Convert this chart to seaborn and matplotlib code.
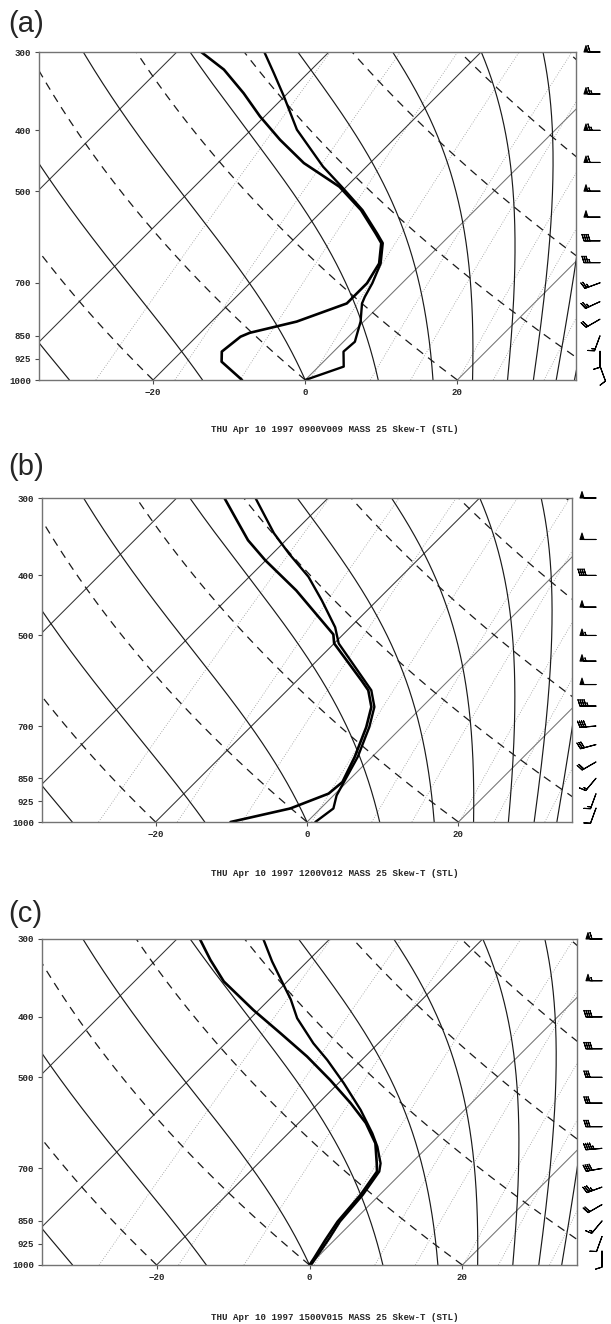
import numpy as np
import matplotlib
matplotlib.use("Agg")
import matplotlib.pyplot as plt
import seaborn as sns

# sounding values (p in hPa, T in deg C)
# (a) 0900V009
p_a_t = [1000, 952, 901, 869, 807, 755, 737, 701, 652, 605, 584, 536, 492, 457, 399, 353, 324, 300]
t_a = [0.0, 3.3, 1.3, 1.5, -0.4, -2.6, -3.1, -3.9, -5.4, -7.8, -9.8, -14.8, -20.6, -25.7, -34.0, -40.1, -44.5, -48.5]
p_a_td = [1000, 935, 901, 853, 841, 807, 755, 701, 652, 605, 584, 536, 492, 451, 414, 380, 349, 320, 300]
td_a = [-8.3, -13.4, -14.7, -14.2, -13.5, -8.8, -4.6, -4.6, -5.6, -8.0, -10.0, -15.0, -20.9, -28.7, -34.9, -40.6, -45.8, -51.5, -56.8]

# (b) 1200V012
p_b_t = [1000, 951, 906, 862, 785, 703, 652, 613, 591, 515, 485, 439, 402, 369, 342, 300]
t_b = [1.1, 1.7, 0.4, -0.4, -1.9, -4.3, -6.3, -8.9, -11.1, -19.4, -22.0, -27.3, -32.2, -37.8, -42.5, -49.6]
p_b_td = [1000, 951, 900, 862, 785, 703, 652, 613, 591, 515, 498, 423, 378, 351, 326, 300]
td_b = [-10.1, -4.0, -0.9, -0.6, -2.3, -4.7, -6.7, -9.3, -11.5, -20.0, -21.3, -32.0, -40.1, -45.0, -49.1, -53.7]

# (c) 1500V015
p_c_t = [1000, 906, 852, 772, 708, 687, 646, 615, 564, 511, 469, 441, 402, 375, 353, 326, 300]
t_c = [0.2, -0.9, -1.7, -2.2, -3.1, -4.0, -6.6, -9.0, -13.6, -19.3, -24.5, -28.5, -33.9, -37.2, -40.4, -44.6, -48.7]
p_c_td = [1000, 975, 912, 852, 772, 708, 687, 638, 592, 550, 505, 463, 425, 390, 351, 324, 300]
td_c = [0.0, -0.3, -1.2, -2.0, -2.5, -3.4, -4.5, -7.3, -11.2, -15.8, -21.5, -27.6, -34.1, -40.7, -48.3, -52.9, -57.0]

# winds (kt, deg)
wind_p = [300, 350, 400, 450, 500, 550, 600, 650, 700, 750, 800, 850, 900, 950]
spd_a = [60, 65, 65, 60, 55, 50, 40, 35, 25, 25, 20, 15, 10, 10]
dir_a = [270, 270, 270, 270, 270, 270, 270, 270, 250, 245, 240, 200, 180, 160]
spd_b = [50, 50, 40, 50, 55, 55, 50, 45, 40, 30, 20, 15, 15, 10]
dir_b = [270, 270, 270, 270, 270, 270, 270, 270, 265, 255, 240, 220, 200, 200]
spd_c = [60, 55, 40, 40, 30, 30, 30, 45, 40, 35, 20, 15, 10, 10]
dir_c = [270, 270, 270, 270, 270, 270, 270, 265, 260, 250, 240, 220, 200, 180]

captions = ["THU Apr 10 1997 0900V009 MASS 25 Skew-T (STL)",
            "THU Apr 10 1997 1200V012 MASS 25 Skew-T (STL)",
            "THU Apr 10 1997 1500V015 MASS 25 Skew-T (STL)"]
letters = ["(a)", "(b)", "(c)"]

# background line families
isotherms = [-60, -40, -20, 0, 20]
dry_theta = [-40, -20, 0, 20, 40, 60, 80, 100, 120]
moist_t0 = [-31, -13.5, 0, 9.6, 16.8, 22, 26.6, 30, 33, 35.4, 37.5]
mix_w = [0.4, 1, 2, 4, 7, 10, 15, 20, 30]
p_ticks = [300, 400, 500, 700, 850, 925, 1000]
t_ticks = [-20, 0, 20]

W, H = 611, 1324
boxes = [(39, 576, 52, 380, -35, 35.6, 600),
         (42, 572, 498, 822, -35, 35, 596),
         (42, 577, 939, 1265, -35, 35, 602)]
label_y = [24, 467, 914]
cap_y = [430, 874, 1317]

sns.set_theme(style="white")
plt.rcParams["font.family"] = ["Liberation Sans", "DejaVu Sans"]

Rd, cp, Lv, eps, kap = 287.04, 1005.7, 2.501e6, 0.622, 0.2857
pp = np.geomspace(1000, 300, 400)


def rsat(tc, p):
    es = 6.112 * np.exp(17.67 * tc / (tc + 243.5))
    return eps * es / (p - es)


def moist(t0):
    out = [t0 + 273.15]
    for i in range(len(pp) - 1):
        T, p, dp = out[-1], pp[i], pp[i + 1] - pp[i]

        def g(T, p):
            r = rsat(T - 273.15, p)
            return (Rd * T + Lv * r) / (p * (cp + Lv * Lv * r * eps / (Rd * T * T)))
        k1 = g(T, p)
        k2 = g(T + k1 * dp / 2, p + dp / 2)
        out.append(T + k2 * dp)
    return np.array(out) - 273.15


def mixing_td(w):
    e = w / 1000 * pp / (eps + w / 1000)
    a = np.log(e / 6.112)
    return 243.5 * a / (17.67 - a)


fig = plt.figure(figsize=(W / 100, H / 100), dpi=100)
soundings = [(p_a_t, t_a, p_a_td, td_a, spd_a, dir_a),
             (p_b_t, t_b, p_b_td, td_b, spd_b, dir_b),
             (p_c_t, t_c, p_c_td, td_c, spd_c, dir_c)]

mono = dict(family="Liberation Mono", fontweight="bold", fontsize=6.6)

for i, (box, snd) in enumerate(zip(boxes, soundings)):
    l, r, t, b, x0, x1, wx = box
    ax = fig.add_axes([l / W, 1 - b / H, (r - l) / W, (b - t) / H])
    ppd = (r - l) / (x1 - x0)
    K = (b - t) / np.log(1000 / 300) / ppd
    sk = lambda tc, p: np.asarray(tc) + K * np.log(1000.0 / np.asarray(p, float))

    ax.set_yscale("log")
    ax.set_ylim(1000, 300)
    ax.set_xlim(x0, x1)

    for w in mix_w:
        ax.plot(sk(mixing_td(w), pp), pp, color="0.6", lw=0.6, ls=(0, (1, 2)))
    for it in isotherms:
        ax.plot(sk(np.full_like(pp, it), pp), pp,
                color="0.2" if it < 0 else "0.45", lw=0.75)
    for th in dry_theta:
        tt = (th + 273.15) * (pp / 1000) ** kap - 273.15
        ax.plot(sk(tt, pp), pp, color="0.1", lw=0.9, ls=(0, (6.5, 5)))
    for m0 in moist_t0:
        ax.plot(sk(moist(m0), pp), pp, color="0.1", lw=0.85)

    pt, tt, pd_, tdd, spd, wdir = snd
    sns.lineplot(x=sk(tdd, pd_), y=pd_, sort=False, estimator=None,
                 color="black", lw=1.9, ax=ax)
    sns.lineplot(x=sk(tt, pt), y=pt, sort=False, estimator=None,
                 color="black", lw=1.7, ax=ax)

    # wind barbs to the right of the frame
    d = np.deg2rad(wdir)
    u = -np.asarray(spd) * np.sin(d)
    v = -np.asarray(spd) * np.cos(d)
    bx = np.full(len(wind_p), x0 + (wx - l) / ppd)
    ax.barbs(bx, wind_p, u, v, length=4.8, linewidth=0.8, color="black",
             clip_on=False, sizes=dict(emptybarb=0))

    ax.set_yticks(p_ticks)
    ax.set_yticklabels([str(v) for v in p_ticks], **mono)
    ax.yaxis.set_minor_locator(matplotlib.ticker.NullLocator())
    ax.set_xticks(t_ticks)
    ax.set_xticklabels([str(v).replace("-", "\u2212") for v in t_ticks], **mono)
    ax.tick_params(axis="both", length=3, width=0.8, color="0.3", pad=2.5,
                   direction="out", left=True, bottom=True)
    ax.set_xlabel("")
    ax.set_ylabel("")
    for s in ax.spines.values():
        s.set_color("0.45")
        s.set_linewidth(1.0)

    fig.text(8 / W, 1 - label_y[i] / H, letters[i], fontsize=21, va="center", ha="left")
    fig.text(335 / W, 1 - cap_y[i] / H, captions[i], ha="center", va="center", **mono)

fig.savefig("out.png", dpi=100, facecolor="white")
